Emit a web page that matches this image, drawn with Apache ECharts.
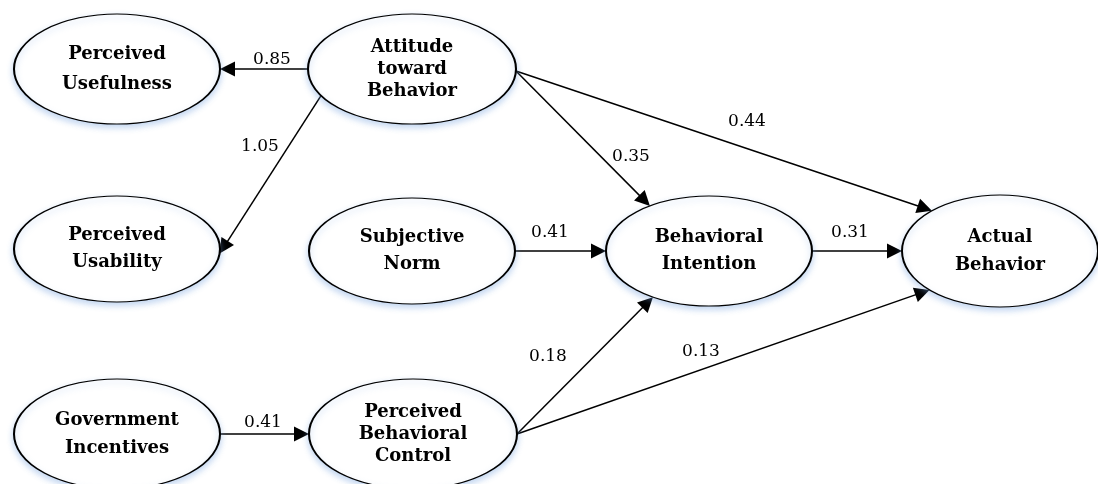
<!DOCTYPE html>
<html>
<head>
<meta charset="utf-8">
<script src="https://cdn.jsdelivr.net/npm/echarts@6/dist/echarts.min.js"></script>
<style>
  html, body { margin: 0; padding: 0; background: #fff; }
  #chart { width: 1098px; height: 484px; }
</style>
</head>
<body>
<div id="chart"></div>
<script>
// 节点和路径系数
var nodeNames = [
  'Perceived\nUsefulness', 'Attitude\ntoward\nBehavior', 'Perceived\nUsability',
  'Subjective\nNorm', 'Behavioral\nIntention', 'Actual\nBehavior',
  'Government\nIncentives', 'Perceived\nBehavioral\nControl'
];
var edgeFrom = [1, 1, 1, 1, 3, 4, 6, 7, 7];
var edgeTo = [0, 2, 4, 5, 4, 5, 7, 4, 5];
var edgeWeights = [0.85, 1.05, 0.35, 0.44, 0.41, 0.31, 0.41, 0.18, 0.13];

// 布局: 椭圆中心, 半径, 行高
var nodeLayout = [
  [117, 69, 103, 55, 30],
  [412, 69, 104, 55, 22],
  [117, 249, 103, 53, 27],
  [412, 251, 103, 53, 27],
  [709, 251, 103, 55, 27],
  [1000, 251, 98, 56, 28],
  [117, 434, 103, 55, 28],
  [413, 434, 104, 55, 22]
];
// 连线在椭圆上的起止角度
var edgePorts = [[180, 0], [151, 5], [2, 235], [2, 226], [0, 180], [0, 180], [0, 180], [0, 123], [0, 136]];
var weightPos = [[272, 60], [260, 147], [631, 157], [747, 122], [550, 233], [850, 233], [263, 423], [548, 357], [701, 352]];

var ARROW = [11, 15];

function portPoint(i, deg) {
  var n = nodeLayout[i], a = deg * Math.PI / 180;
  return [n[0] + n[2] * Math.cos(a), n[1] + n[3] * Math.sin(a)];
}

var nodeData = nodeNames.map(function (name, i) {
  var n = nodeLayout[i];
  return {
    name: name,
    value: [n[0], n[1]],
    symbolSize: [n[2] * 2, n[3] * 2],
    label: { lineHeight: n[4] }
  };
});

var lineData = edgeFrom.map(function (s, i) {
  var p1 = portPoint(s, edgePorts[i][0]);
  var p2 = portPoint(edgeTo[i], edgePorts[i][1]);
  var dx = p2[0] - p1[0], dy = p2[1] - p1[1];
  var len = Math.sqrt(dx * dx + dy * dy);
  var k = ARROW[1] / 2 / len;
  return { coords: [p1, [p2[0] - dx * k, p2[1] - dy * k]] };
});

var weightData = edgeWeights.map(function (w, i) {
  return { value: [weightPos[i][0], weightPos[i][1], w] };
});

var chart = echarts.init(document.getElementById('chart'));

var option = {
  backgroundColor: '#fff',
  animation: false,
  grid: { left: 0, right: 0, top: 0, bottom: 0 },
  xAxis: { type: 'value', min: 0, max: 1098, show: false },
  yAxis: { type: 'value', min: 0, max: 484, inverse: true, show: false },
  series: [
    {
      type: 'lines',
      coordinateSystem: 'cartesian2d',
      symbol: ['none', 'triangle'],
      symbolSize: ARROW,
      lineStyle: { color: '#000', width: 1.5, opacity: 1 },
      data: lineData,
      z: 3
    },
    {
      type: 'scatter',
      symbol: 'path://M0,50 A50,50 0 1,1 100,50 A50,50 0 1,1 0,50 Z',
      itemStyle: {
        color: '#fff',
        opacity: 1,
        borderColor: '#000',
        borderWidth: 1.5,
        shadowColor: 'rgba(120,165,225,0.45)',
        shadowBlur: 6,
        shadowOffsetY: 3
      },
      label: {
        show: true,
        position: 'inside',
        formatter: '{b}',
        color: '#000',
        fontFamily: '"DejaVu Serif", serif',
        fontWeight: 'bold',
        fontSize: 18
      },
      emphasis: { disabled: true },
      data: nodeData,
      z: 4
    },
    {
      type: 'scatter',
      symbolSize: 0,
      itemStyle: { opacity: 1 },
      label: {
        show: true,
        position: 'inside',
        color: '#000',
        fontFamily: '"DejaVu Serif", serif',
        fontSize: 17,
        formatter: function (p) { return p.value[2].toFixed(2); }
      },
      emphasis: { disabled: true },
      data: weightData,
      z: 5
    }
  ]
};

chart.setOption(option);
</script>
</body>
</html>
